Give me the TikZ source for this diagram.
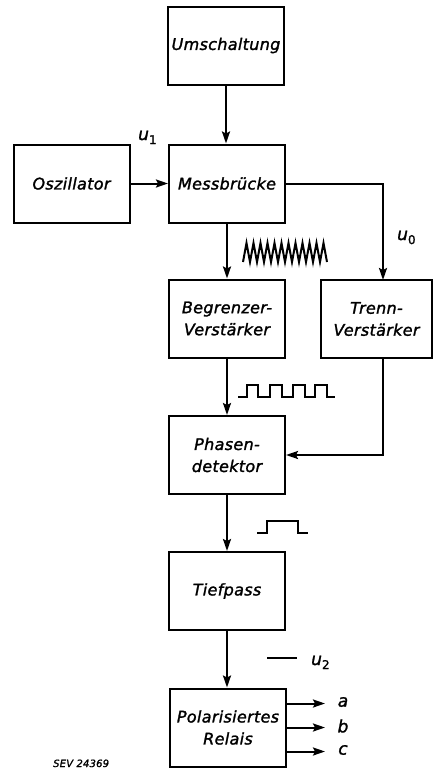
\documentclass[tikz,border=0pt]{standalone}
\usepackage{fontspec}
\setmainfont{DejaVu Sans}
\newfontfamily\lbl[LetterSpace=2,FakeBold=1.5,ItalicFeatures={FakeBold=1.5}]{DejaVu Sans}
\usetikzlibrary{arrows.meta}
\begin{document}
\begin{tikzpicture}[x=1pt,y=-1pt,
  blk/.style={draw,line width=2pt,minimum width=116pt,minimum height=78pt,inner sep=0pt,align=center,font=\lbl\itshape\fontsize{16}{22}\selectfont},
  conn/.style={draw,line width=2pt,-{Stealth[length=12pt,width=8pt,inset=2pt]}},
  wave/.style={line width=2pt,line join=miter},
  lab/.style={font=\lbl\itshape\fontsize{17}{17}\selectfont,inner sep=0pt}]
\useasboundingbox (0,0) rectangle (433,769);
% blocks
\node[blk] (ums) at (226,45.5) {Umschaltung};
\node[blk] (mess) at (227,183.5) {Messbrücke};
\node[blk] (osz) at (71.5,183.5) {Oszillator};
\node[blk] (begr) at (227,318.5) {Begrenzer-\\Verstärker};
\node[blk,minimum width=111pt] (trenn) at (376.5,319) {Trenn-\\Verstärker};
\node[blk] (phas) at (227,455) {Phasen-\\detektor};
\node[blk] (tief) at (227,591) {Tiefpass};
\node[blk] (pol) at (228,727.5) {Polarisiertes\\Relais};
% connectors
\draw[conn] (ums.south) -- (ums.south |- mess.north);
\draw[conn] (osz.east) -- (mess.west);
\coordinate (trin) at (383,280);
\coordinate (trout) at (383,358);
\draw[conn] (mess.east) -| (trin);
\draw[conn] (mess.south) -- (begr.north);
\draw[conn] (begr.south) -- (phas.north);
\draw[conn] (trout) |- (phas.east);
\draw[conn] (phas.south) -- (tief.north);
\draw[conn] (tief.south) -- (tief.south |- pol.north);
\coordinate (oa) at (325,703.5);
\coordinate (ob) at (325,727.5);
\coordinate (oc) at (325,751.5);
\draw[conn] (pol.east |- oa) -- (oa);
\draw[conn] (pol.east |- ob) -- (ob);
\draw[conn] (pol.east |- oc) -- (oc);
% labels
\node[lab] (la) at (343,702) {a};
\node[lab] (lb) at (343,726) {b};
\node[lab] (lc) at (343,750) {c};
\node[lab,anchor=base west] (u1) at (138,140) {u\raisebox{-4pt}{\upshape\fontsize{12}{12}\selectfont 1}};
\node[lab,anchor=base west] (u0) at (397,240) {u\raisebox{-4pt}{\upshape\fontsize{12}{12}\selectfont 0}};
\node[lab,anchor=base west] (u2) at (311,665) {u\raisebox{-4pt}{\upshape\fontsize{12}{12}\selectfont 2}};
\draw[line width=2pt] (267,658) -- (297,658);
\node[font=\lbl\itshape\fontsize{10}{10}\selectfont,anchor=base west,inner sep=0pt] (sev) at (53,767) {SEV 24369};
% zigzag
\draw[wave] (243,262) \foreach \k in {1,...,24} { -- ({243+\k*3.5},{ifthenelse(mod(\k,2)==1,243,262)}) };
% square wave
\draw[wave] (238,397) -- (247,397) -- (247,385) -- (258,385) -- (258,397) -- (270,397) -- (270,385) -- (282,385) -- (282,397) -- (293,397) -- (293,385) -- (305,385) -- (305,397) -- (315,397) -- (315,385) -- (327,385) -- (327,397) -- (335,397);
% single pulse
\draw[wave] (257,533) -- (267,533) -- (267,521) -- (298,521) -- (298,533) -- (308,533);
\end{tikzpicture}
\end{document}
